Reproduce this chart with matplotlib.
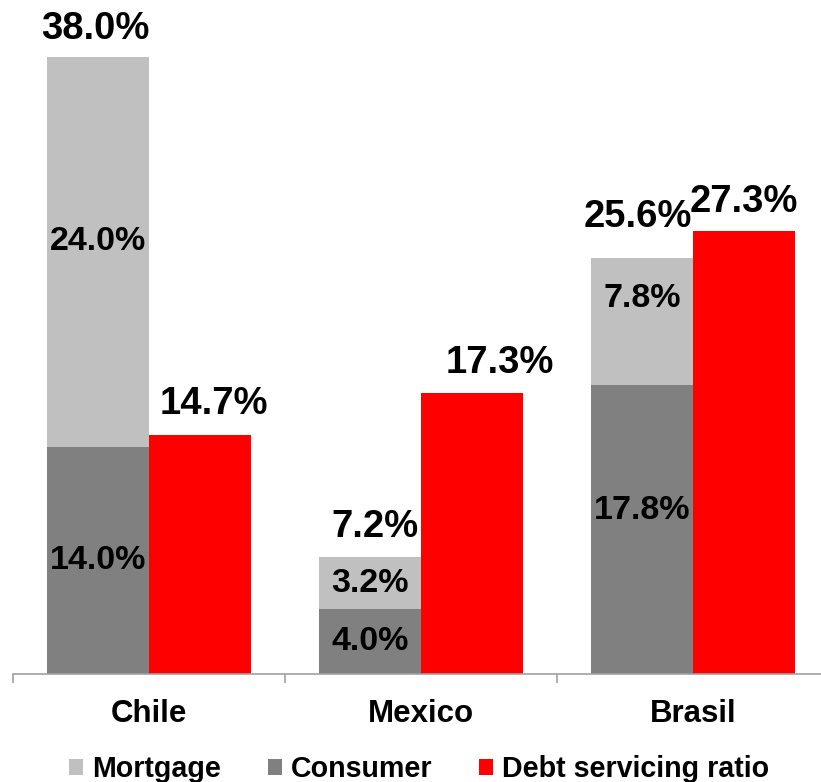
import matplotlib
matplotlib.use("Agg")
import matplotlib.pyplot as plt
from matplotlib.patches import Patch
import numpy as np

# Household debt by country (% of disposable income)
countries = ["Chile", "Mexico", "Brasil"]
consumer = [14.0, 4.0, 17.8]
mortgage = [24.0, 3.2, 7.8]
total = [38.0, 7.2, 25.6]
debt_service = [14.7, 17.3, 27.3]
series_names = ["Mortgage", "Consumer", "Debt servicing ratio"]

# Hand-tuned label nudges, in pixels
total_dx = [-3, 5, -4]
total_dy = [18, 20, 31]
dsr_dx = [14, 28, 0]
dsr_dy = [21, 20, 19]
mort_dy = [10, 0, 23]
cons_dy = [0, 0, 19]

C_MORT = "#C0C0C0"
C_CONS = "#808080"
C_DSR = "#FF0000"

plt.rcParams["font.family"] = ["Liberation Sans", "DejaVu Sans"]
plt.rcParams["font.weight"] = "bold"

fig = plt.figure(figsize=(8.21, 7.82), dpi=100)
ax = fig.add_axes([13 / 821, 108 / 782, 816 / 821, 1 - 108 / 782])

x = np.arange(len(countries))
w = 0.375
xg = x - w / 2
xr = x + w / 2

ax.bar(xg, consumer, w, color=C_CONS, linewidth=0)
ax.bar(xg, mortgage, w, bottom=consumer, color=C_MORT, linewidth=0)
ax.bar(xr, debt_service, w, color=C_DSR, linewidth=0)

inner_fs = 24.5
outer_fs = 27.5

for i in range(len(countries)):
    ax.annotate(f"{consumer[i]:.1f}%", (xg[i], consumer[i] / 2),
                xytext=(0, cons_dy[i]), textcoords="offset pixels",
                ha="center", va="center", fontsize=inner_fs, fontweight="bold")
    ax.annotate(f"{mortgage[i]:.1f}%", (xg[i], consumer[i] + mortgage[i] / 2),
                xytext=(0, mort_dy[i]), textcoords="offset pixels",
                ha="center", va="center", fontsize=inner_fs, fontweight="bold")
    ax.annotate(f"{total[i]:.1f}%", (xg[i], total[i]),
                xytext=(total_dx[i], total_dy[i]), textcoords="offset pixels",
                ha="center", va="baseline", fontsize=outer_fs, fontweight="bold")
    ax.annotate(f"{debt_service[i]:.1f}%", (xr[i], debt_service[i]),
                xytext=(dsr_dx[i], dsr_dy[i]), textcoords="offset pixels",
                ha="center", va="baseline", fontsize=outer_fs, fontweight="bold")

ax.set_xlim(-0.5, 2.5)
ax.set_ylim(0, 674 / 16.24)

for s in ["top", "right", "left"]:
    ax.spines[s].set_visible(False)
ax.spines["bottom"].set_color("#A0A0A0")
ax.spines["bottom"].set_linewidth(1.2)
ax.set_yticks([])

ax.set_xticks(x)
ax.set_xticklabels(countries, fontsize=22.5, fontweight="bold")
ax.tick_params(axis="x", which="major", length=0, pad=18)
ax.set_xticks([-0.5, 0.5, 1.5, 2.5], minor=True)
ax.tick_params(axis="x", which="minor", length=6.5, width=1.2, color="#A0A0A0")

handles = [Patch(facecolor=C_MORT), Patch(facecolor=C_CONS), Patch(facecolor=C_DSR)]
fig.legend(handles, series_names, ncol=3, loc="center",
           bbox_to_anchor=(419 / 821, 1 - 769 / 782), frameon=False,
           prop={"size": 20.6, "weight": "bold"}, handlelength=0.5,
           handleheight=0.5, handletextpad=0.3, columnspacing=1.64,
           borderpad=0, borderaxespad=0)

fig.savefig("out.png", dpi=100)
